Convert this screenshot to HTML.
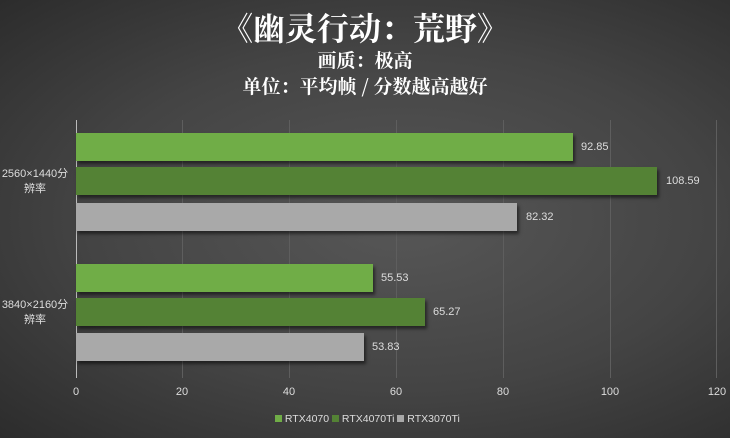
<!DOCTYPE html>
<html><head><meta charset="utf-8"><style>
body{margin:0;width:730px;height:438px;overflow:hidden;background:radial-gradient(ellipse at 55% 50%,#575757 0%,#444 55%,#2c2c2c 100%);font-family:"Liberation Sans","Noto Sans CJK SC",sans-serif;position:relative;color:#fff}
.t{position:absolute;left:0;width:730px;text-align:center;font-family:"Noto Serif CJK SC","Noto Sans CJK SC",serif;font-weight:bold}
.g{position:absolute;top:120px;height:258px;width:1px;background:#5e5e5e}
.b{position:absolute;left:76px;height:28px;box-shadow:2px 3px 3px rgba(0,0,0,.5)}
.v{position:absolute;font-size:11px;color:#ddd}
.x{position:absolute;top:386px;font-size:11px;color:#ddd;width:40px;text-align:center}
.c{position:absolute;font-size:11px;color:#ddd;width:70px;text-align:center;line-height:15px}
</style></head><body>
<div class="t" style="top:4px;font-size:32px">《幽灵行动：荒野》</div>
<div class="t" style="top:46px;font-size:19px">画质：极高</div>
<div class="t" style="top:72px;font-size:19px">单位：平均帧 / 分数越高越好</div>
<div class="g" style="left:182px"></div><div class="g" style="left:289px"></div><div class="g" style="left:396px"></div><div class="g" style="left:503px"></div><div class="g" style="left:610px"></div><div class="g" style="left:716px"></div>
<div class="g" style="left:76px;background:#bbb"></div>
<div class="b" style="top:133px;width:497px;background:#70ad47"></div>
<div class="b" style="top:167px;width:581px;background:#548235"></div>
<div class="b" style="top:203px;width:441px;background:#a9a9a9"></div>
<div class="b" style="top:264px;width:297px;background:#70ad47"></div>
<div class="b" style="top:298px;width:349px;background:#548235"></div>
<div class="b" style="top:333px;width:288px;background:#a9a9a9"></div>
<div class="v" style="left:581px;top:141px">92.85</div>
<div class="v" style="left:666px;top:175px">108.59</div>
<div class="v" style="left:526px;top:211px">82.32</div>
<div class="v" style="left:381px;top:272px">55.53</div>
<div class="v" style="left:433px;top:306px">65.27</div>
<div class="v" style="left:372px;top:341px">53.83</div>
<div class="c" style="left:0;top:167px">2560×1440分<br>辨率</div>
<div class="c" style="left:0;top:298px">3840×2160分<br>辨率</div>
<div class="x" style="left:56px">0</div><div class="x" style="left:162px">20</div><div class="x" style="left:269px">40</div><div class="x" style="left:376px">60</div><div class="x" style="left:483px">80</div><div class="x" style="left:590px">100</div><div class="x" style="left:697px">120</div>
<div style="position:absolute;top:413px;left:275px;font-size:10.5px;color:#ddd;white-space:nowrap">
<span style="display:inline-block;width:7px;height:7px;background:#70ad47"></span> RTX4070 <span style="display:inline-block;width:7px;height:7px;background:#548235"></span> RTX4070Ti <span style="display:inline-block;width:7px;height:7px;background:#a9a9a9"></span> RTX3070Ti</div>
</body></html>
